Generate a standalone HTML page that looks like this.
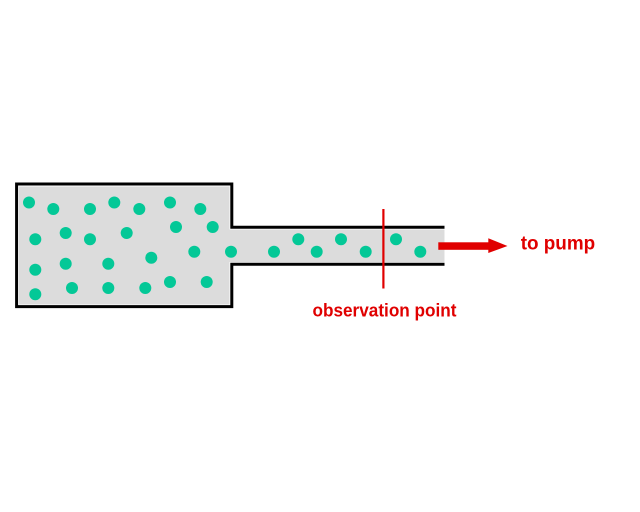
<!DOCTYPE html>
<html>
<head>
<meta charset="utf-8">
<style>
  html, body { margin: 0; padding: 0; background: #ffffff; }
  body { width: 640px; height: 512px; overflow: hidden; }
  svg { display: block; }
</style>
</head>
<body>
<svg width="640" height="512" viewBox="0 0 640 512" xmlns="http://www.w3.org/2000/svg">
  <rect x="0" y="0" width="640" height="512" fill="#ffffff"/>
  <!-- gray fill -->
  <path d="M19,186.5 H229.5 V229.5 H444.5 V262 H229.5 V304.5 H19 Z" fill="#dcdcdc"/>
  <!-- outline -->
  <path d="M444.5,227.3 H231.8 V184 H16.6 V306.6 H231.8 V264.2 H444.5" fill="none" stroke="#000000" stroke-width="3" stroke-linejoin="miter"/>
  <!-- dots -->
  <g fill="#04c897">
    <circle cx="29" cy="202.5" r="6"/>
    <circle cx="53.3" cy="209" r="6"/>
    <circle cx="90" cy="209" r="6"/>
    <circle cx="114.3" cy="202.5" r="6"/>
    <circle cx="139.3" cy="209" r="6"/>
    <circle cx="170" cy="202.5" r="6"/>
    <circle cx="200.3" cy="209" r="6"/>

    <circle cx="35.3" cy="239.3" r="6"/>
    <circle cx="65.7" cy="233" r="6"/>
    <circle cx="90" cy="239.3" r="6"/>
    <circle cx="126.7" cy="233" r="6"/>
    <circle cx="176" cy="227" r="6"/>
    <circle cx="212.7" cy="227" r="6"/>

    <circle cx="35.3" cy="269.7" r="6"/>
    <circle cx="65.7" cy="263.7" r="6"/>
    <circle cx="108.3" cy="263.7" r="6"/>
    <circle cx="151.3" cy="257.7" r="6"/>
    <circle cx="194.3" cy="251.7" r="6"/>
    <circle cx="231" cy="251.7" r="6"/>

    <circle cx="35.3" cy="294.3" r="6"/>
    <circle cx="72" cy="288" r="6"/>
    <circle cx="108.3" cy="288" r="6"/>
    <circle cx="145.3" cy="288" r="6"/>
    <circle cx="170" cy="282" r="6"/>
    <circle cx="206.7" cy="282" r="6"/>

    <circle cx="274" cy="251.7" r="6"/>
    <circle cx="298.3" cy="239.3" r="6"/>
    <circle cx="316.7" cy="251.7" r="6"/>
    <circle cx="341" cy="239.3" r="6"/>
    <circle cx="365.7" cy="251.7" r="6"/>
    <circle cx="396" cy="239.3" r="6"/>
    <circle cx="420.3" cy="251.7" r="6"/>
  </g>
  <!-- observation line -->
  <rect x="382.3" y="209" width="2.2" height="79.5" fill="#e00000"/>
  <!-- arrow -->
  <rect x="438.3" y="242.3" width="51" height="7.5" fill="#e00000"/>
  <polygon points="488.3,238.3 507.5,246 488.3,253" fill="#e00000"/>
  <!-- labels -->
  <text x="312.5" y="316.3" font-family="'Liberation Sans', Arial, sans-serif" font-size="18.5" font-weight="bold" fill="#e00000" textLength="144" lengthAdjust="spacingAndGlyphs">observation point</text>
  <text x="520.7" y="249.5" font-family="'Liberation Sans', Arial, sans-serif" font-size="19" font-weight="bold" fill="#e00000" textLength="74.5" lengthAdjust="spacingAndGlyphs">to pump</text>
</svg>
</body>
</html>
